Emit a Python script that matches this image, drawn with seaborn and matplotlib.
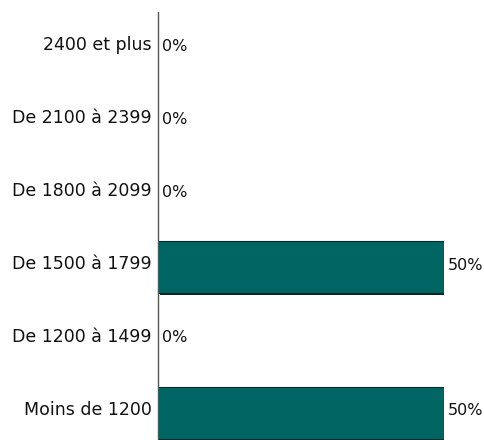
import matplotlib
matplotlib.use("Agg")
import matplotlib.pyplot as plt
import matplotlib.patheffects as pe
from matplotlib.transforms import offset_copy
import pandas as pd
import seaborn as sns

# Données (de haut en bas)
tranches = ["2400 et plus", "De 2100 à 2399", "De 1800 à 2099",
            "De 1500 à 1799", "De 1200 à 1499", "Moins de 1200"]
pourcentages = [0, 0, 0, 50, 0, 50]

df = pd.DataFrame({"Tranche": tranches, "Pourcentage": pourcentages})

sns.set_style("white")
plt.rcParams["font.family"] = ["DejaVu Sans"]

fig = plt.figure(figsize=(4.84, 4.40), dpi=100)
ax = fig.add_axes([158 / 484, -0.021, (444 - 158) / 484, 0.994])

sns.barplot(x="Pourcentage", y="Tranche", data=df, ax=ax, orient="h",
            color="#006563", saturation=1, width=0.72,
            edgecolor="#0b2b2a", linewidth=0.8)

# Ombre légère sur les barres non nulles, rien pour les barres à 0
for bar, v in zip(ax.patches, pourcentages):
    if v == 0:
        bar.set_visible(False)
    else:
        bar.set_path_effects([pe.SimplePatchShadow(offset=(1.2, -1.2),
                                                   shadow_rgbFace="#0d2624", alpha=1),
                              pe.Normal()])

# Libellés des tranches (un peu au-dessus du centre, comme l'original)
lbl_tr = offset_copy(ax.transData, fig=fig, x=-6, y=3, units="dots")
for i, t in enumerate(tranches):
    ax.text(0, i, t, transform=lbl_tr, ha="right", va="center",
            fontsize=12.5, color="#111111", clip_on=False)

# Étiquettes de valeurs
val_tr = offset_copy(ax.transData, fig=fig, x=4, y=2, units="dots")
for i, v in enumerate(pourcentages):
    ax.text(v, i, f"{v}%", transform=val_tr, va="center", ha="left",
            fontsize=11.5, color="#111111", clip_on=False)

ax.set_xlim(0, 50)
ax.set_ylim(len(tranches) - 0.5, -0.5)
ax.set_xlabel("")
ax.set_ylabel("")
ax.set_xticks([])
ax.set_yticks([])
for s in ["top", "right", "bottom"]:
    ax.spines[s].set_visible(False)
ax.spines["left"].set_color("#555555")
ax.spines["left"].set_linewidth(1)

fig.savefig("out.png", dpi=100)
